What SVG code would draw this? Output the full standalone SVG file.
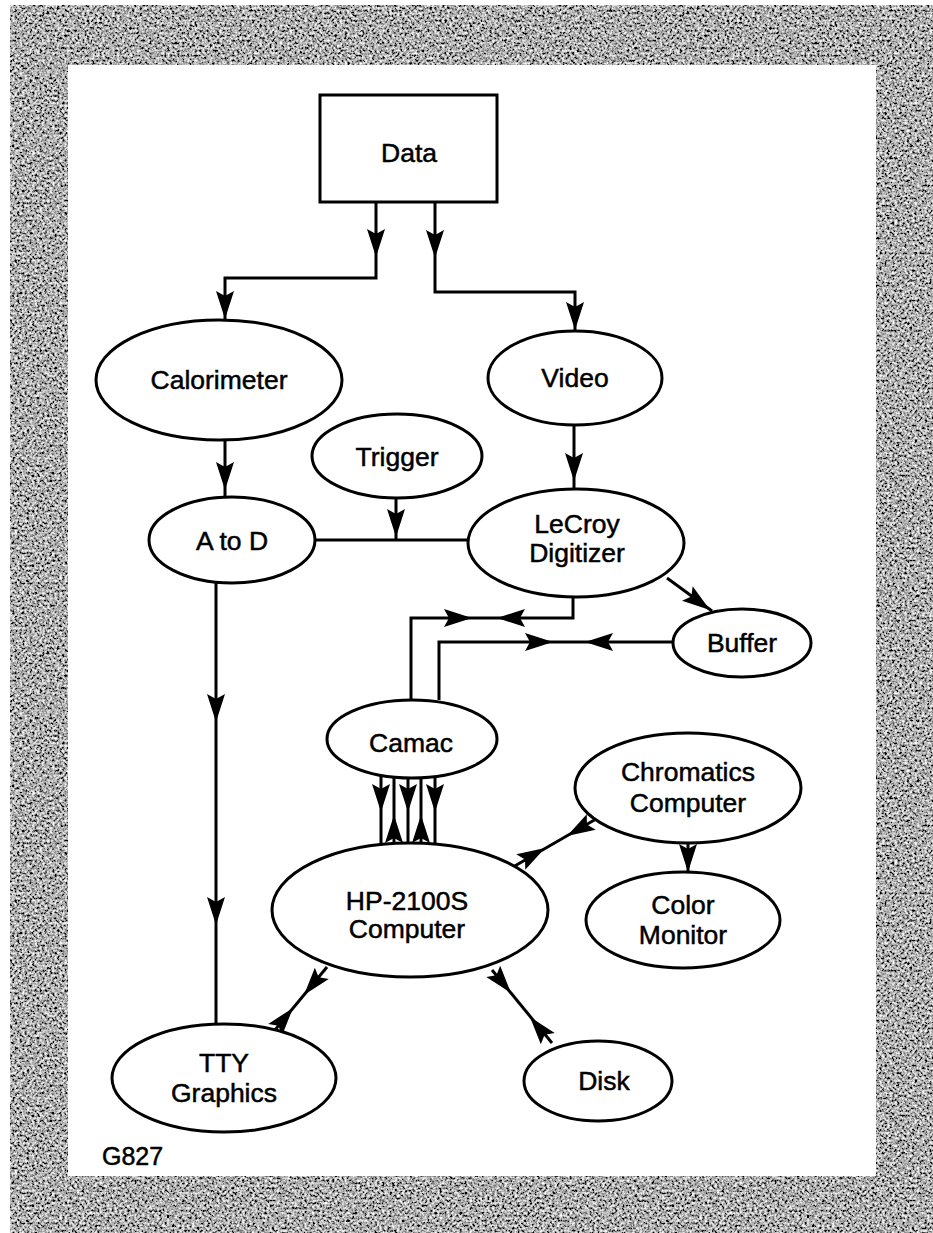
<svg xmlns="http://www.w3.org/2000/svg" width="933" height="1233" viewBox="0 0 933 1233">
<style>
.n{fill:#fff;stroke:#000;stroke-width:3}
.t{font-family:"Liberation Sans",Arial,sans-serif;font-size:26.5px;fill:#000;stroke:#000;stroke-width:0.5;text-anchor:middle}
.c{fill:none;stroke:#000;stroke-width:3}
</style>
<defs>
<filter id="noise" x="0" y="0" width="1" height="1">
<feTurbulence type="fractalNoise" baseFrequency="0.4" numOctaves="4" seed="7" result="n"/>
<feColorMatrix in="n" type="matrix" values="2 0 0 0 -0.58  2 0 0 0 -0.58  2 0 0 0 -0.58  0 0 0 0 1" result="g"/>
<feComposite in="g" in2="SourceGraphic" operator="in"/>
</filter>
<path id="ah" d="M0,0 L-28,-9 L-23,0 L-28,9 Z" fill="#000"/>
</defs>
<rect x="0" y="0" width="933" height="1233" fill="#fff"/>
<rect x="10" y="5" width="923" height="1228" fill="#999" filter="url(#noise)"/>
<rect x="68" y="65" width="808" height="1111" fill="#fff"/>

<g id="connectors">
<path class="c" d="M376,202 V278 H225 V320"/>
<use href="#ah" transform="translate(376,257) rotate(90)"/>
<use href="#ah" transform="translate(225,319) rotate(90)"/>
<path class="c" d="M435,202 V292 H575 V331"/>
<use href="#ah" transform="translate(435,258) rotate(90)"/>
<use href="#ah" transform="translate(575,330) rotate(90)"/>
<path class="c" d="M225,440 V498"/>
<use href="#ah" transform="translate(225,490) rotate(90)"/>
<path class="c" d="M574,425 V490"/>
<use href="#ah" transform="translate(574,481) rotate(90)"/>
<path class="c" d="M396,498 V540"/>
<use href="#ah" transform="translate(396,537) rotate(90)"/>
<path class="c" d="M315,540 H468"/>
<path class="c" d="M667,578 L712,611"/>
<use href="#ah" transform="translate(710,610) rotate(36)"/>
<path class="c" d="M573,597 V618 H411 V700"/>
<use href="#ah" transform="translate(472,618)"/>
<use href="#ah" transform="translate(497,618) rotate(180)"/>
<path class="c" d="M673,642 H439 V700"/>
<use href="#ah" transform="translate(553,642)"/>
<use href="#ah" transform="translate(585,642) rotate(180)"/>
<path class="c" d="M381,775 V846 M394,777 V846 M408,778 V847 M421,778 V847 M435,776 V846"/>
<use href="#ah" transform="translate(381,812) rotate(90)"/>
<use href="#ah" transform="translate(408,812) rotate(90)"/>
<use href="#ah" transform="translate(435,812) rotate(90)"/>
<use href="#ah" transform="translate(394,815) rotate(-90)"/>
<use href="#ah" transform="translate(421,815) rotate(-90)"/>
<path class="c" d="M603,815 L513,867"/>
<use href="#ah" transform="translate(545,848) rotate(-30)"/>
<use href="#ah" transform="translate(567,836) rotate(150)"/>
<path class="c" d="M688,843 V873"/>
<use href="#ah" transform="translate(688,872) rotate(90)"/>
<path class="c" d="M327,967 L275,1030"/>
<use href="#ah" transform="translate(304,995) rotate(129.5)"/>
<use href="#ah" transform="translate(293,1008) rotate(-50.5)"/>
<path class="c" d="M492,970 L552,1043"/>
<use href="#ah" transform="translate(511,993) rotate(50.6)"/>
<use href="#ah" transform="translate(530,1017) rotate(-129.4)"/>
<path class="c" d="M216,583 V1025"/>
<use href="#ah" transform="translate(216,722) rotate(90)"/>
<use href="#ah" transform="translate(216,925) rotate(90)"/>
</g>

<g id="data"><rect class="n" x="320" y="95" width="177" height="107"/><text class="t" x="409" y="162">Data</text></g>
<g id="calorimeter"><ellipse class="n" cx="219" cy="380" rx="123" ry="60"/><text class="t" x="219" y="389">Calorimeter</text></g>
<g id="video"><ellipse class="n" cx="575" cy="378" rx="87" ry="47"/><text class="t" x="575" y="387">Video</text></g>
<g id="trigger"><ellipse class="n" cx="397" cy="456" rx="85" ry="42"/><text class="t" x="397" y="466">Trigger</text></g>
<g id="atod"><ellipse class="n" cx="232" cy="540" rx="83" ry="43"/><text class="t" x="232" y="550">A to D</text></g>
<g id="lecroy"><ellipse class="n" cx="576" cy="543" rx="108" ry="54"/><text class="t" x="577" y="533">LeCroy</text><text class="t" x="577" y="562">Digitizer</text></g>
<g id="buffer"><ellipse class="n" cx="742" cy="643" rx="69" ry="34"/><text class="t" x="742" y="652">Buffer</text></g>
<g id="camac"><ellipse class="n" cx="412" cy="739" rx="85" ry="39"/><text class="t" x="411" y="752">Camac</text></g>
<g id="chromatics"><ellipse class="n" cx="688" cy="788" rx="113" ry="55"/><text class="t" x="688" y="781">Chromatics</text><text class="t" x="688" y="812">Computer</text></g>
<g id="hp"><ellipse class="n" cx="410" cy="910" rx="138" ry="67"/><text class="t" x="407" y="910">HP-2100S</text><text class="t" x="407" y="938">Computer</text></g>
<g id="colormonitor"><ellipse class="n" cx="683" cy="920" rx="97" ry="48"/><text class="t" x="683" y="914">Color</text><text class="t" x="683" y="944">Monitor</text></g>
<g id="tty"><ellipse class="n" cx="224" cy="1078" rx="112" ry="54"/><text class="t" x="224" y="1072">TTY</text><text class="t" x="224" y="1102">Graphics</text></g>
<g id="disk"><ellipse class="n" cx="598" cy="1081" rx="74" ry="40"/><text class="t" x="604" y="1090">Disk</text></g>
<text class="t" x="102" y="1165" style="text-anchor:start;font-size:25px">G827</text>
</svg>
